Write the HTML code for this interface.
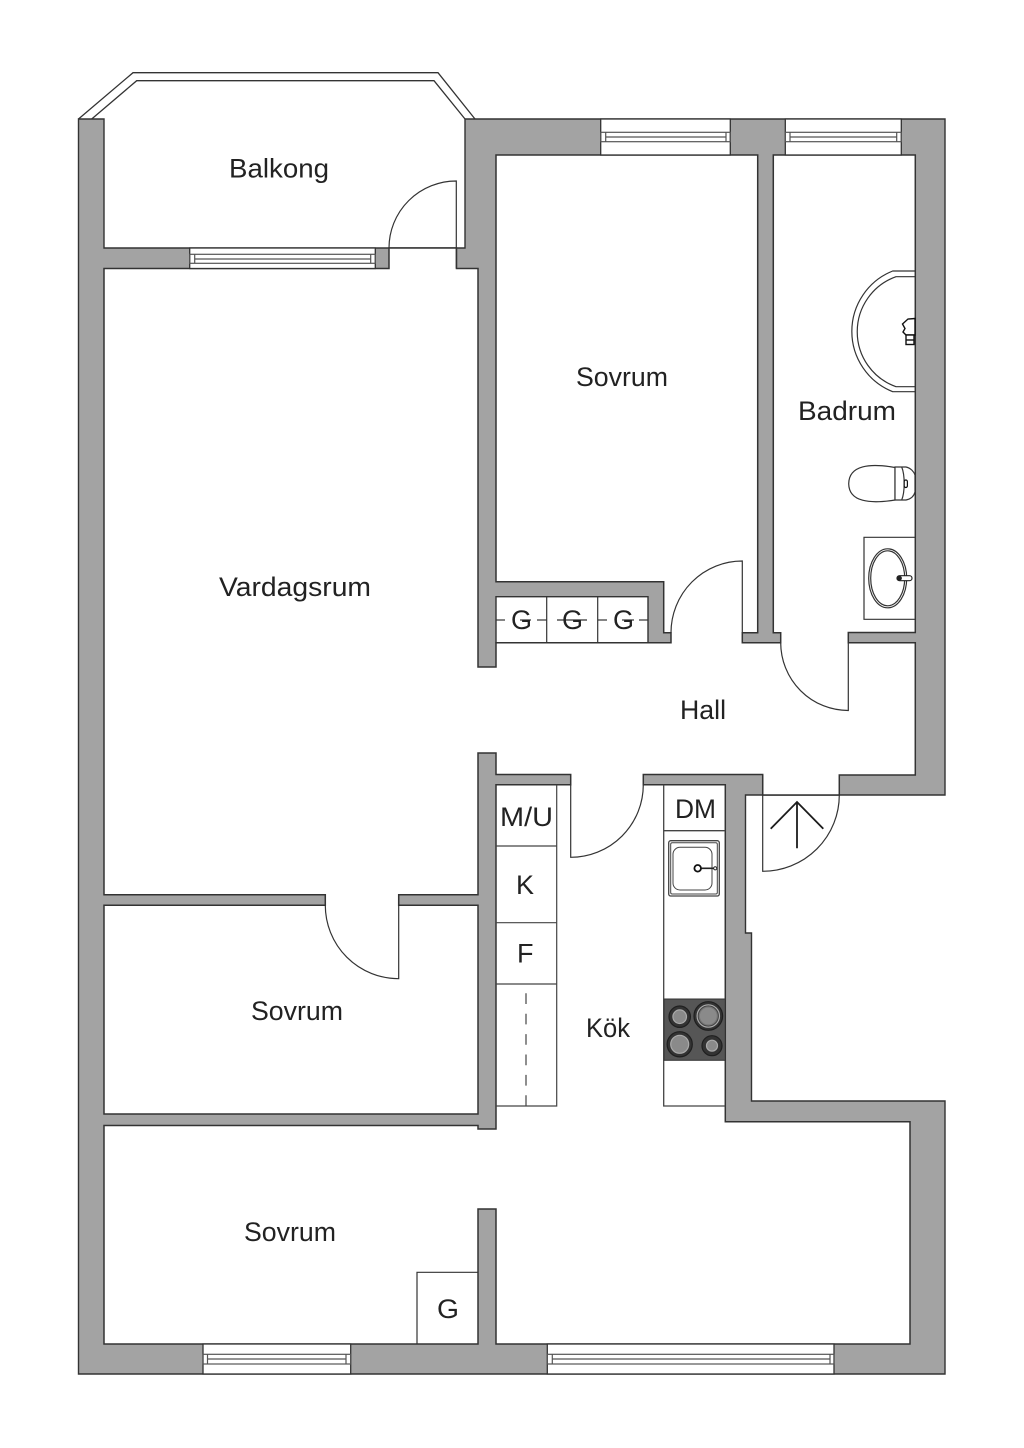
<!DOCTYPE html>
<html lang="sv">
<head>
<meta charset="utf-8">
<title>Planritning</title>
<style>
html,body{margin:0;padding:0;background:#fff}
svg{display:block}
text{font-family:"Liberation Sans",sans-serif;fill:#222;font-size:27px}
</style>
</head>
<body>
<svg xmlns="http://www.w3.org/2000/svg" width="1024" height="1448" viewBox="0 0 1024 1448">
<rect width="1024" height="1448" fill="#fff"/>

<!-- balcony rail -->
<g fill="none" stroke="#333" stroke-width="1.3">
<polyline points="78.5,119 133,72.7 438,72.7 475,119"/>
<polyline points="91.7,119 136.7,80.7 434,80.7 465,119"/>
</g>

<!-- walls -->
<polygon fill="#a3a3a3" stroke="#333" stroke-width="1.4" points="78.5,119 104,119 104,248 465,248 465,119 945,119 945,795 745.5,795 745.5,933 751.5,933 751.5,1101 945,1101 945,1374 78.5,1374"/>

<!-- interior white -->
<polygon fill="#fff" stroke="#333" stroke-width="1.5" points="104,268.5 389,268.5 389,248 456.5,248 456.5,268.5 478,268.5 478,667 496,667 496,642.7 671,642.7 671,632.7 663.7,632.7 663.7,581.7 496,581.7 496,155 757.7,155 757.7,632.7 742.3,632.7 742.3,642.7 780.7,642.7 780.7,632.7 773.3,632.7 773.3,155 915.3,155 915.3,632.5 848.3,632.5 848.3,642.7 915.3,642.7 915.3,775 839.3,775 839.3,795 762.7,795 762.7,774.5 643.3,774.5 643.3,784.7 725.3,784.7 725.3,1121.7 910,1121.7 910,1344 496,1344 496,1209 478,1209 478,1344 104,1344 104,1125.5 478,1125.5 478,1129 496,1129 496,784.7 570.7,784.7 570.7,774.5 496,774.5 496,753 478,753 478,894.7 398.7,894.7 398.7,905.3 478,905.3 478,1114 104,1114 104,905.3 325.3,905.3 325.3,894.7 104,894.7"/>

<!-- wardrobe row in wall block -->
<rect x="496" y="596.7" width="152" height="46" fill="#fff" stroke="#333" stroke-width="1.4"/>
<g stroke="#333" stroke-width="1.2">
<line x1="546.7" y1="596.7" x2="546.7" y2="642.7"/>
<line x1="597.7" y1="596.7" x2="597.7" y2="642.7"/>
<line x1="496" y1="620" x2="505" y2="620"/><line x1="520" y1="620" x2="531" y2="620"/><line x1="537" y1="620" x2="546.7" y2="620"/>
<line x1="557" y1="620" x2="587" y2="620"/>
<line x1="598" y1="620" x2="607" y2="620"/><line x1="622" y1="620" x2="634" y2="620"/><line x1="639" y1="620" x2="648" y2="620"/>
</g>

<!-- windows -->
<g fill="#fff" stroke="#333" stroke-width="1.3">
<rect x="189.7" y="248" width="185.6" height="20.5"/>
<rect x="600.7" y="119" width="129.6" height="36"/>
<rect x="785.3" y="119" width="116" height="36"/>
<rect x="203" y="1344" width="147.7" height="30"/>
<rect x="547.3" y="1344" width="286.7" height="30"/>
</g>
<g fill="none" stroke="#555" stroke-width="1.2">
<rect x="189.7" y="254.3" width="185.6" height="9"/>
<line x1="194.7" y1="254.3" x2="194.7" y2="263.3"/><line x1="370.7" y1="254.3" x2="370.7" y2="263.3"/><line x1="194.7" y1="259" x2="370.7" y2="259"/>
<rect x="600.7" y="132.3" width="129.6" height="9.4"/>
<line x1="605.7" y1="132.3" x2="605.7" y2="141.7"/><line x1="726" y1="132.3" x2="726" y2="141.7"/><line x1="605.7" y1="137" x2="726" y2="137"/>
<rect x="785.3" y="132.3" width="116" height="9.4"/>
<line x1="790" y1="132.3" x2="790" y2="141.7"/><line x1="896.7" y1="132.3" x2="896.7" y2="141.7"/><line x1="790" y1="137" x2="896.7" y2="137"/>
<rect x="203" y="1354.3" width="147.7" height="9.7"/>
<line x1="207.5" y1="1354.3" x2="207.5" y2="1364"/><line x1="346" y1="1354.3" x2="346" y2="1364"/><line x1="207.5" y1="1359" x2="346" y2="1359"/>
<rect x="547.3" y="1354.3" width="286.7" height="9.7"/>
<line x1="552.3" y1="1354.3" x2="552.3" y2="1364"/><line x1="830" y1="1354.3" x2="830" y2="1364"/><line x1="552.3" y1="1359" x2="830" y2="1359"/>
</g>

<!-- doors -->
<g fill="none" stroke="#333" stroke-width="1.2">
<path d="M389 248A67.3 67 0 0 1 456.3 181V268.5"/>
<path d="M671 632.7A71.3 71.7 0 0 1 742.3 561V632.7"/>
<path d="M780.7 642.7A67.6 68 0 0 0 848.3 710.5V642.7"/>
<path d="M839.3 795A76.6 76.3 0 0 1 762.7 871.3V775"/>
<path d="M643.3 784.7A72.6 72.6 0 0 1 570.7 857.3V784.7"/>
<path d="M325.3 905.3A73.4 73.4 0 0 0 398.7 978.7V905.3"/>
</g>

<!-- entry arrow -->
<g fill="none" stroke="#1c1c1c" stroke-width="1.8">
<path d="M770.7 828.7L797 802L823.3 828.7M797 802V848.3"/>
</g>

<!-- shower -->
<g fill="none" stroke="#333" stroke-width="1.2">
<path d="M915 271H892.7A65 65 0 0 0 892.7 391.7H915"/>
<path d="M915 276.7H896A58.4 58.4 0 0 0 896 386.7H915"/>
</g>
<g fill="#fff" stroke="#111" stroke-width="1.4">
<path d="M915 318.5L908 319L902.5 324L905 328.5L903 332L906 335H915Z"/>
<rect x="906" y="335" width="8" height="9.5"/>
<line x1="906" y1="340" x2="914" y2="340"/>
</g>

<!-- toilet -->
<g fill="#fff" stroke="#333" stroke-width="1.2">
<path d="M895 467.5C870 463 849 465 848.7 483.7C849 502 870 504 895 500Z"/>
<path d="M895 467L906 467C911 468 914 472 915 475V492C914 496 911 499 906 500L895 500Z"/>
<path d="M901.7 467C905 475 905 492 901.7 500" fill="none"/>
<rect x="904.2" y="480" width="3.2" height="7.5" rx="1.6" stroke="#111"/>
</g>

<!-- bathroom basin -->
<g fill="none" stroke="#333" stroke-width="1.2">
<path d="M915 537.3H864V619.3H915"/>
<ellipse cx="887.7" cy="578.3" rx="19" ry="29.5"/>
<ellipse cx="887.7" cy="578.3" rx="17" ry="27.5"/>
</g>
<rect x="897" y="575.7" width="15" height="5" rx="2.5" fill="#fff" stroke="#222" stroke-width="1.2"/>
<circle cx="899.5" cy="578.2" r="2.4" fill="#222"/>

<!-- kitchen left cabinets -->
<g fill="none" stroke="#444" stroke-width="1.2">
<path d="M556.7 784.7V1106H496"/>
<line x1="496" y1="846" x2="556.7" y2="846"/>
<line x1="496" y1="922.7" x2="556.7" y2="922.7"/>
<line x1="496" y1="984" x2="556.7" y2="984"/>
<line x1="526" y1="993.3" x2="526" y2="1106" stroke-dasharray="10.7 9.7"/>
</g>

<!-- kitchen right cabinets -->
<g fill="none" stroke="#444" stroke-width="1.3">
<path d="M663.7 784.7V1106H725.3"/>
<line x1="663.7" y1="830.7" x2="725.3" y2="830.7"/>
<rect x="668.7" y="840.7" width="50.6" height="55.3" rx="2"/>
<rect x="670.7" y="842.7" width="46.6" height="51.3" rx="1.5" stroke-width="1"/>
<rect x="673" y="847.3" width="39" height="42.7" rx="7" stroke-width="1"/>
</g>
<line x1="698" y1="868.3" x2="715" y2="868.3" stroke="#222" stroke-width="1.6"/>
<circle cx="715.2" cy="868.3" r="1.6" fill="#fff" stroke="#222" stroke-width="1"/>
<circle cx="697.7" cy="868.3" r="3.3" fill="#fff" stroke="#111" stroke-width="1.8"/>

<!-- stove -->
<rect x="664" y="999" width="61.3" height="61.3" fill="#565656" stroke="#333" stroke-width="1"/>
<g stroke="#1f1f1f" stroke-width="1.2">
<circle cx="679.7" cy="1016.7" r="10.7" fill="#333"/><circle cx="679.7" cy="1016.7" r="6.8" fill="#8a8a8a" stroke="#aaa"/>
<circle cx="708.3" cy="1016" r="14.3" fill="#333"/><circle cx="708.3" cy="1016" r="11.2" fill="#444" stroke="#aaa"/><circle cx="708.3" cy="1016" r="9" fill="#8a8a8a" stroke="#777"/>
<circle cx="679.7" cy="1044.3" r="12.6" fill="#333"/><circle cx="679.7" cy="1044.3" r="9" fill="#8a8a8a" stroke="#aaa"/>
<circle cx="712" cy="1045.7" r="10" fill="#333"/><circle cx="712" cy="1045.7" r="5.5" fill="#8a8a8a" stroke="#aaa"/>
</g>

<!-- G closet, bottom -->
<path d="M478 1272.3H417V1344" fill="none" stroke="#333" stroke-width="1.2"/>

<!-- labels -->
<text x="229" y="177.3" textLength="100" lengthAdjust="spacingAndGlyphs">Balkong</text>
<text x="576" y="386" textLength="92" lengthAdjust="spacingAndGlyphs">Sovrum</text>
<text x="798" y="420" textLength="98" lengthAdjust="spacingAndGlyphs">Badrum</text>
<text x="219" y="596" textLength="152" lengthAdjust="spacingAndGlyphs">Vardagsrum</text>
<text x="680" y="719" textLength="46" lengthAdjust="spacingAndGlyphs">Hall</text>
<text x="500" y="826" textLength="53" lengthAdjust="spacingAndGlyphs">M/U</text>
<text x="675" y="818" textLength="41" lengthAdjust="spacingAndGlyphs">DM</text>
<text x="516" y="894">K</text>
<text x="517" y="962.7">F</text>
<text x="586" y="1037" textLength="44" lengthAdjust="spacingAndGlyphs">Kök</text>
<text x="251" y="1020" textLength="92" lengthAdjust="spacingAndGlyphs">Sovrum</text>
<text x="244" y="1241" textLength="92" lengthAdjust="spacingAndGlyphs">Sovrum</text>
<text x="437" y="1318" textLength="22" lengthAdjust="spacingAndGlyphs">G</text>
<text x="511" y="629" textLength="21" lengthAdjust="spacingAndGlyphs">G</text>
<text x="562" y="629" textLength="21" lengthAdjust="spacingAndGlyphs">G</text>
<text x="613" y="629" textLength="21" lengthAdjust="spacingAndGlyphs">G</text>
</svg>
</body>
</html>
